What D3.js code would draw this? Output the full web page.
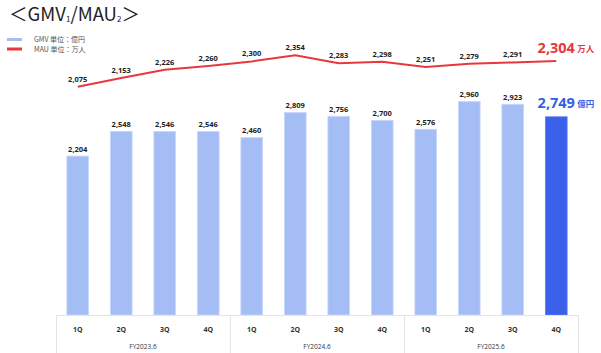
<!DOCTYPE html>
<html><head><meta charset="utf-8">
<script src="https://cdn.jsdelivr.net/npm/d3@7"></script>
<style>
html,body{margin:0;padding:0;background:#fff;}
svg{display:block;font-family:"Open Sans","Liberation Sans",sans-serif;}
</style></head>
<body><svg id="c" width="601" height="353"></svg>
<script>
const quarters = ["1Q","2Q","3Q","4Q","1Q","2Q","3Q","4Q","1Q","2Q","3Q","4Q"];
const fiscalYears = ["FY2023.6","FY2024.6","FY2025.6"];
const gmv = [2204,2548,2546,2546,2460,2809,2756,2700,2576,2960,2923,2749];
const mau = [2075,2153,2226,2260,2300,2354,2283,2298,2251,2279,2291,2304];
const gmvUnit = "億円";
const mauUnit = "万人";

const svg = d3.select("#c");
const fmt = d3.format(",");
const idx = d3.range(quarters.length);

const x = d3.scaleBand().domain(idx).range([56, 578]).paddingInner(0.5).paddingOuter(0.25);
const yBar = d3.scaleLinear().domain([0, 3000]).range([315, 98.7]);
const yLine = d3.scaleLinear().domain([2000, 2400]).range([95.1, 50.2]);
const cx = i => x(i) + x.bandwidth() / 2;

// Title
const t = svg.append("text").attr("x", 9).attr("y", 21).attr("font-size", 18.5).attr("fill", "#222")
  .attr("font-family", "'Noto Sans CJK JP','Noto Sans',sans-serif");
t.append("tspan").text("＜GMV");
t.append("tspan").attr("font-size", 8).attr("dy", 1).text("1");
t.append("tspan").attr("dy", -1).text("/MAU");
t.append("tspan").attr("font-size", 8).attr("dy", 1).text("2");
t.append("tspan").attr("dy", -1).text("＞");

// Legend
const legend = [["GMV 単位：" + gmvUnit, "#a4bef5"], ["MAU 単位：" + mauUnit, "#e8383d"]];
legend.forEach((d, i) => {
  const y = 39.5 + i * 9.5;
  svg.append("line").attr("x1", 7).attr("x2", 22).attr("y1", y).attr("y2", y)
    .attr("stroke", d[1]).attr("stroke-width", 3);
  svg.append("text").attr("x", 34).attr("y", y + 2.6).attr("font-size", 7).attr("fill", "#555")
    .attr("font-family", "'Noto Sans CJK JP',sans-serif").text(d[0]);
});

// Bars
svg.append("g").selectAll("rect").data(gmv).join("rect")
  .attr("x", (d, i) => x(i)).attr("width", x.bandwidth())
  .attr("y", d => yBar(d)).attr("height", d => yBar(0) - yBar(d))
  .attr("fill", (d, i) => i === gmv.length - 1 ? "#3a5fe8" : "#a4bef5")
  .attr("stroke", (d, i) => i === gmv.length - 1 ? "#5f7ff0" : "#c9d8fb")
  .attr("stroke-width", 0.8);

// Bar labels
gmv.forEach((d, i) => {
  if (i === gmv.length - 1) {
    svg.append("text").attr("x", cx(i)).attr("y", yBar(d) - 9).attr("text-anchor", "middle")
      .attr("font-size", 14.5).attr("font-weight", "bold").attr("fill", "#3060e8").text(fmt(d));
    svg.append("text").attr("x", cx(i) + 21).attr("y", yBar(d) - 10).attr("font-size", 8.5)
      .attr("font-weight", "bold").attr("fill", "#3060e8")
      .attr("font-family", "'Noto Sans CJK JP',sans-serif").text(gmvUnit);
  } else {
    svg.append("text").attr("x", cx(i)).attr("y", yBar(d) - 4.5).attr("text-anchor", "middle")
      .attr("font-size", 7.5).attr("font-weight", "bold").attr("fill", "#222").text(fmt(d));
  }
});

// Line
const line = d3.line().x((d, i) => cx(i)).y(d => yLine(d));
svg.append("path").datum(mau).attr("d", line).attr("fill", "none")
  .attr("stroke", "#e8383d").attr("stroke-width", 2);

mau.forEach((d, i) => {
  if (i === mau.length - 1) {
    svg.append("text").attr("x", cx(i)).attr("y", yLine(d) - 8).attr("text-anchor", "middle")
      .attr("font-size", 14.5).attr("font-weight", "bold").attr("fill", "#e8383d").text(fmt(d));
    svg.append("text").attr("x", cx(i) + 21).attr("y", yLine(d) - 9).attr("font-size", 8.5)
      .attr("font-weight", "bold").attr("fill", "#e8383d")
      .attr("font-family", "'Noto Sans CJK JP',sans-serif").text(mauUnit);
  } else {
    svg.append("text").attr("x", cx(i)).attr("y", yLine(d) - 5).attr("text-anchor", "middle")
      .attr("font-size", 7.5).attr("font-weight", "bold").attr("fill", "#222").text(fmt(d));
  }
});

// Axis table
const ax = svg.append("g").attr("stroke", "#e4e4e4").attr("stroke-width", 1);
ax.append("line").attr("x1", 56).attr("x2", 578).attr("y1", 315.5).attr("y2", 315.5);
[0, 4, 8, 12].forEach(k => {
  const xx = k === 12 ? 578 : x(k) - x.step() * x.paddingInner() / 2;
  ax.append("line").attr("x1", Math.round(xx) + 0.5).attr("x2", Math.round(xx) + 0.5)
    .attr("y1", 315).attr("y2", 353);
});
quarters.forEach((q, i) => {
  svg.append("text").attr("x", cx(i)).attr("y", 332).attr("text-anchor", "middle")
    .attr("font-size", 7).attr("font-weight", "bold").attr("fill", "#333").text(q);
});
fiscalYears.forEach((f, g) => {
  const mid = (cx(g * 4) + cx(g * 4 + 3)) / 2;
  svg.append("text").attr("x", mid).attr("y", 349).attr("text-anchor", "middle")
    .attr("font-size", 6.5).attr("fill", "#333").text(f);
});
</script></body></html>
